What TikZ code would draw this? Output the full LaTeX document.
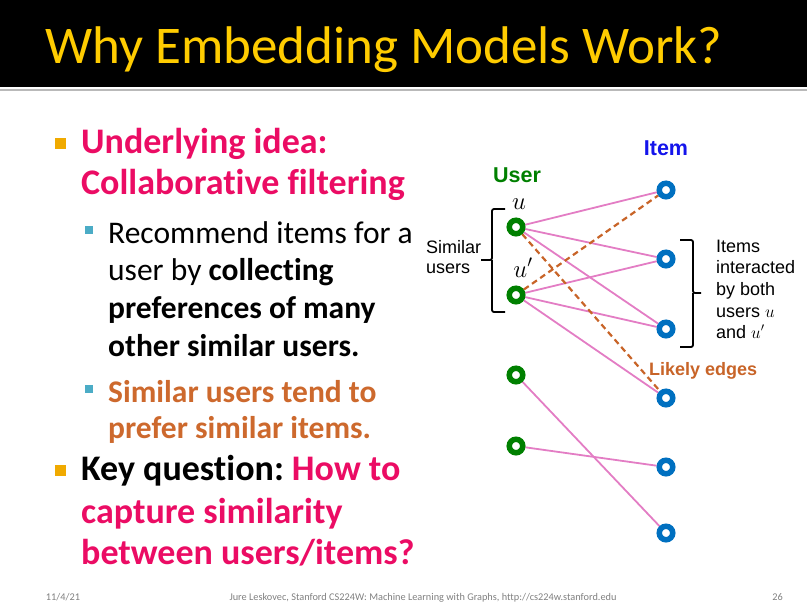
\documentclass[tikz,border=0pt]{standalone}
\usepackage{fontspec}
\setmainfont{Carlito}[Ligatures=NoCommon]
\newfontfamily\arialfont{Liberation Sans}
\usetikzlibrary{positioning, backgrounds}
\definecolor{titleyellow}{RGB}{255,204,0}
\definecolor{hotpink}{RGB}{235,12,100}
\definecolor{simorange}{RGB}{205,105,45}
\definecolor{bulletorange}{RGB}{240,170,0}
\definecolor{bulletcyan}{RGB}{75,172,198}
\definecolor{edgepink}{RGB}{227,125,196}
\definecolor{likelyorange}{RGB}{200,100,40}
\definecolor{usergreen}{RGB}{0,128,0}
\definecolor{itemblue}{RGB}{0,112,192}
\definecolor{labelblue}{RGB}{20,20,235}

\tikzset{
  lvlone/.style={anchor=base west, inner sep=0pt, font=\fontsize{36}{42}\selectfont\bfseries},
  lvltwo/.style={anchor=base west, inner sep=0pt, font=\fontsize{31.5}{37}\selectfont},
  small/.style={anchor=base west, inner sep=0pt, font=\arialfont\fontsize{18}{21}\selectfont},
  footer/.style={inner sep=0pt, text=gray, font=\fontsize{10.3}{12}\selectfont},
  usernode/.style={circle, draw=usergreen, fill=white, line width=5.5pt, minimum size=13.5pt, inner sep=0pt},
  itemnode/.style={circle, draw=itemblue, fill=white, line width=5.5pt, minimum size=13.5pt, inner sep=0pt},
  edge/.style={edgepink, line width=1.8pt},
  likely/.style={likelyorange, line width=2.2pt, dash pattern=on 6pt off 4pt},
  brace/.style={black, line width=1.8pt, rounded corners=2pt}
}

\begin{document}
\frenchspacing
\begin{tikzpicture}[x=1pt, y=-1pt]
\useasboundingbox (0,0) rectangle (807,603);

% title bar
\fill[black] (0,0) rectangle (807,87);
\draw[gray!55, line width=1.5pt] (0,90) -- (807,90);
\node[anchor=base west, inner sep=0pt, text=titleyellow, font=\fontsize{53}{60}\selectfont] (title) at (45,63) {Why Embedding Models Work?};

% bullets
\fill[bulletorange] (55,138) rectangle (66,149);
\node[lvlone, text=hotpink] (idea1) at (81,153) {Underlying idea:};
\node[lvlone, text=hotpink] (idea2) at (81,194) {Collaborative filtering};

\fill[bulletcyan] (85,226) rectangle (93,234);
\node[lvltwo] (rec1) at (108,243) {Recommend items for a};
\node[lvltwo] (rec2) at (108,280) {user by \textbf{collecting}};
\node[lvltwo] (rec3) at (108,318) {\textbf{preferences of many}};
\node[lvltwo] (rec4) at (108,356) {\textbf{other similar users.}};

\fill[bulletcyan] (85,385) rectangle (93,393);
\node[lvltwo, text=simorange, font=\fontsize{31.5}{37}\selectfont\bfseries] (sim1) at (108,402) {Similar users tend to};
\node[lvltwo, text=simorange, font=\fontsize{31.5}{37}\selectfont\bfseries] (sim2) at (108,438) {prefer similar items.};

\fill[bulletorange] (55,465) rectangle (66,476);
\node[lvlone] (key1) at (81,480) {Key question: \textcolor{hotpink}{How to}};
\node[lvlone, text=hotpink] (key2) at (81,523) {capture similarity};
\node[lvlone, text=hotpink] (key3) at (81,564) {between users/items?};

% graph
\node[usernode] (u) at (516,227) {};
\node[usernode] (up) at (516,295) {};
\node[usernode] (u3) at (516,375) {};
\node[usernode] (u4) at (516,446) {};

\node[itemnode] (i1) at (666,190) {};
\node[itemnode] (i2) at (666,259) {};
\node[itemnode] (i3) at (666,329) {};
\node[itemnode] (i4) at (666,398) {};
\node[itemnode] (i5) at (666,467) {};
\node[itemnode] (i6) at (666,533) {};

\begin{scope}[on background layer]
  \draw[edge] (u) -- (i1);
  \draw[edge] (u) -- (i2);
  \draw[edge] (u) -- (i3);
  \draw[edge] (up) -- (i2);
  \draw[edge] (up) -- (i3);
  \draw[edge] (up) -- (i4);
  \draw[edge] (u3) -- (i6);
  \draw[edge] (u4) -- (i5);
  \draw[likely] (u) -- (i4);
  \draw[likely] (up) -- (i1);
\end{scope}

\node[anchor=base, inner sep=0pt, text=usergreen, font=\arialfont\fontsize{21.5}{24}\selectfont\bfseries] (userlbl) at (517,182) {User};
\node[anchor=base, inner sep=0pt, text=labelblue, font=\arialfont\fontsize{21.5}{24}\selectfont\bfseries] (itemlbl) at (666,155) {Item};
\node[anchor=base, inner sep=0pt, font=\fontsize{25}{28}\selectfont] (ulbl) at (519,209) {$u$};
\node[anchor=base, inner sep=0pt, font=\fontsize{25}{28}\selectfont] (uplbl) at (523,277) {$u'$};

% brackets
\draw[brace] (505,209) -| (492,260) -- (481,260);
\draw[brace] (505,312) -| (492,260);
\draw[brace] (680,240) -| (693,293) -- (701,293);
\draw[brace] (680,347) -| (693,293);

\node[small] (sim) at (426,253) {Similar};
\node[small] (users) at (426,273) {users};

\node[small] (itm1) at (716,252) {Items};
\node[small] (itm2) at (716,273) {interacted};
\node[small] (itm3) at (716,295) {by both};
\node[small] (itm4) at (716,317) {users $u$};
\node[small] (itm5) at (716,338) {and $u'$};

\node[small, text=likelyorange, font=\arialfont\fontsize{18}{21}\selectfont\bfseries] (likelbl) at (649,375) {Likely edges};

% footer
\node[footer, anchor=base] (date) at (63,600) {11/4/21};
\node[footer, anchor=base] (credit) at (423,600) {Jure Leskovec, Stanford CS224W: Machine Learning with Graphs, http://cs224w.stanford.edu};
\node[footer, anchor=base east] (page) at (783,600) {26};
\end{tikzpicture}
\end{document}
